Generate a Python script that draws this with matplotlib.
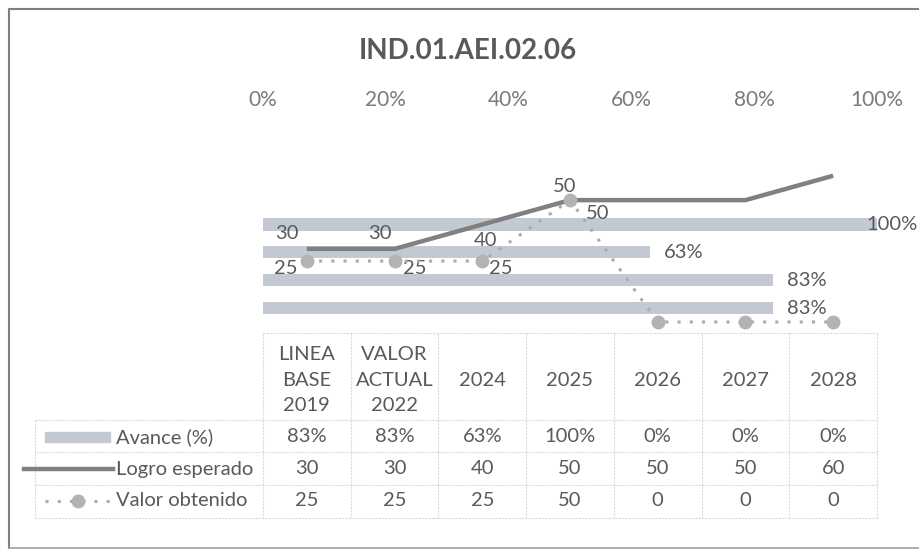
import matplotlib
matplotlib.use("Agg")
import matplotlib.pyplot as plt
from matplotlib.lines import Line2D
from matplotlib.patches import Rectangle

# ---------------- data ----------------
categories = ["LINEA\nBASE\n2019", "VALOR\nACTUAL\n2022", "2024", "2025", "2026", "2027", "2028"]
avance = [0.83, 0.83, 0.63, 1.00, 0.0, 0.0, 0.0]
avance_labels = ["83%", "83%", "63%", "100%", "0%", "0%", "0%"]
logro_esperado = [30, 30, 40, 50, 50, 50, 60]
valor_obtenido = [25, 25, 25, 50, 0, 0, 0]
pct_ticks = [0, 0.2, 0.4, 0.6, 0.8, 1.0]
pct_tick_labels = ["0%", "20%", "40%", "60%", "80%", "100%"]
series_names = ["Avance (%)", "Logro esperado", "Valor obtenido"]
title = "IND.01.AEI.02.06"

W, H = 920, 551
plt.rcParams['font.family'] = ['Lato', 'DejaVu Sans']
TXT = '#595959'
BAR_C = '#c3c9d2'
LOGRO_C = '#808080'
VALOR_C = '#ababab'
GRID_C = '#dadada'
FS = 14.5

def fx(x):
    return x / W

def fy(y):
    return 1 - y / H

fig = plt.figure(figsize=(W / 100, H / 100), dpi=100)

# plot area in pixels
L, R, T, B = 263, 877, 127, 322
pos = [fx(L), fy(B), fx(R) - fx(L), fy(T) - fy(B)]

# ---- bars axis ----
ax1 = fig.add_axes(pos)
ax1.set_xlim(0, 1.0)
n = len(categories)
ax1.set_ylim(-0.5, n - 0.5)
ybar = list(range(n))
ax1.barh(ybar, avance, height=0.44, color=BAR_C, zorder=2)
for i, (v, lab) in enumerate(zip(avance, avance_labels)):
    if v > 0:
        if v >= 1.0:
            # keep inside the figure: right-aligned to the chart edge
            ax1.annotate(lab, xy=(fx(918), i), xycoords=('figure fraction', 'data'),
                         ha='right', va='center', fontsize=FS, color=TXT, annotation_clip=False)
        else:
            ax1.annotate(lab, xy=(v, i), xytext=(14, 0), textcoords='offset pixels',
                         ha='left', va='center', fontsize=FS, color=TXT, annotation_clip=False)
ax1.xaxis.tick_top()
ax1.set_xticks(pct_ticks)
ax1.set_xticklabels(pct_tick_labels, fontsize=15, color='#7a7a7a')
ax1.tick_params(axis='x', length=0, pad=12)
ax1.set_yticks([])
for s in ax1.spines.values():
    s.set_visible(False)
ax1.patch.set_alpha(0)

# ---- lines axis ----
ax2 = fig.add_axes(pos, frameon=False)
ax2.set_xlim(-0.5, n - 0.5)
ax2.set_ylim(0, 80)
xs = list(range(n))
ax2.plot(xs, logro_esperado, color=LOGRO_C, lw=3.2, solid_capstyle='butt', zorder=3)
ax2.plot(xs, valor_obtenido, color=VALOR_C, lw=2.2, linestyle=(0, (1, 3)),
         marker='o', markersize=9, markerfacecolor='#b3b3b3', markeredgecolor='#b3b3b3',
         zorder=4, clip_on=False)
ax2.set_xticks([])
ax2.set_yticks([])

# data labels (offsets in pixels)
logro_off = [(-20, 15), (-15, 15), (3, -16), (-5, 14), None, None, None]
valor_off = [(-21, -7), (20, -7), (18, -7), (28, -13), None, None, None]
for i, off in enumerate(logro_off):
    if off:
        ax2.annotate(str(logro_esperado[i]), xy=(i, logro_esperado[i]), xytext=off,
                     textcoords='offset pixels', ha='center', va='center',
                     fontsize=FS, color=TXT, annotation_clip=False)
for i, off in enumerate(valor_off):
    if off:
        ax2.annotate(str(valor_obtenido[i]), xy=(i, valor_obtenido[i]), xytext=off,
                     textcoords='offset pixels', ha='center', va='center',
                     fontsize=FS, color=TXT, annotation_clip=False)

# ---- title ----
fig.text(fx(468), fy(51), title, ha='center', va='center', fontsize=20,
         fontweight='bold', color=TXT)

# ---- data table ----
colw = (R - L) / n
tbl_left = 35
y_top, y_h, y_r1, y_r2, y_r3 = 333, 420, 452, 485, 518
def hline(x0, x1, y):
    fig.add_artist(Line2D([fx(x0), fx(x1)], [fy(y), fy(y)], color=GRID_C, lw=0.8,
                          linestyle=(0, (2, 1))))
def vline(x, y0, y1):
    fig.add_artist(Line2D([fx(x), fx(x)], [fy(y0), fy(y1)], color=GRID_C, lw=0.8,
                          linestyle=(0, (2, 1))))

hline(L, R, y_top)
for y in (y_h, y_r1, y_r2, y_r3):
    hline(tbl_left, R, y)
vline(tbl_left, y_h, y_r3)
for i in range(n + 1):
    vline(L + i * colw, y_top, y_r3)

for i, c in enumerate(categories):
    fig.text(fx(L + (i + 0.5) * colw), fy(380), c, ha='center', va='center',
             fontsize=FS, color=TXT, linespacing=1.62)

rows_y = [437, 469, 501]
row_vals = [avance_labels, [str(v) for v in logro_esperado], [str(v) for v in valor_obtenido]]
for ry, vals in zip(rows_y, row_vals):
    for i, v in enumerate(vals):
        fig.text(fx(L + (i + 0.5) * colw), fy(ry), v, ha='center', va='center',
                 fontsize=FS, color=TXT)
for ry, name in zip(rows_y, series_names):
    fig.text(fx(116), fy(ry), name, ha='left', va='center', fontsize=FS, color=TXT)

# legend keys
fig.add_artist(Rectangle((fx(45), fy(rows_y[0]) - 5 / H), fx(110) - fx(45), 10 / H,
                         color=BAR_C, transform=fig.transFigure))
fig.add_artist(Line2D([fx(24), fx(113)], [fy(rows_y[1]), fy(rows_y[1])], color=LOGRO_C, lw=3.2))
fig.add_artist(Line2D([fx(45), fx(110)], [fy(rows_y[2]), fy(rows_y[2])], color=VALOR_C, lw=2.2,
                      linestyle=(0, (1, 3))))
fig.add_artist(Line2D([fx(78)], [fy(rows_y[2])], marker='o', markersize=9,
                      markerfacecolor='#b3b3b3', markeredgecolor='#b3b3b3', lw=0))

# chart border
fig.add_artist(Line2D([fx(9), fx(9), fx(925)], [fy(548), fy(9), fy(9)], color='#808080', lw=1.5))
fig.add_artist(Line2D([fx(9), fx(925)], [fy(548), fy(548)], color='#a0a0a0', lw=1.2))

fig.savefig("out.png", dpi=100)
